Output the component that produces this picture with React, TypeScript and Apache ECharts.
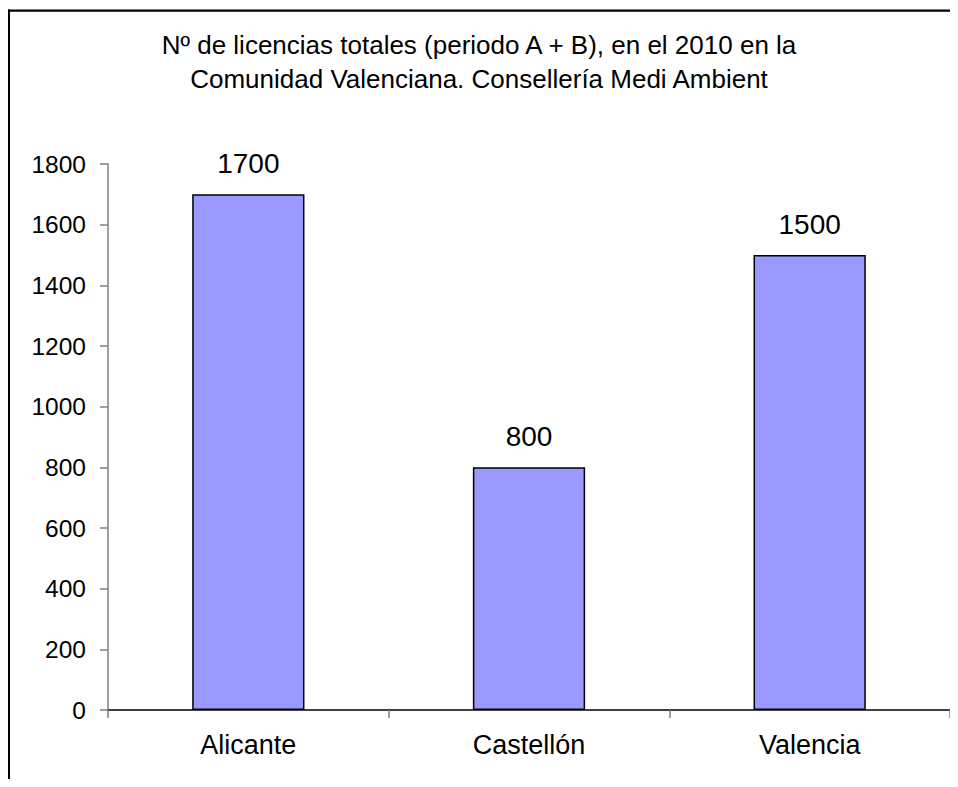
import React, { useEffect, useRef } from "react";
import * as echarts from "echarts";

const titleLines = [
  "Nº de licencias totales (periodo A + B), en el 2010 en la",
  "Comunidad Valenciana. Consellería Medi Ambient",
];
const categories = ["Alicante", "Castellón", "Valencia"];
const licencias = [1700, 800, 1500];
const yTicks = { min: 0, max: 1800, interval: 200 };

const FONT = "Liberation Sans, Arial, sans-serif";

export default function App() {
  const ref = useRef<HTMLDivElement>(null);
  useEffect(() => {
    if (!ref.current) return;
    const chart = echarts.init(ref.current, null, { renderer: "svg" });
    chart.setOption({
      animation: false,
      backgroundColor: "#ffffff",
      textStyle: { fontFamily: FONT, color: "#000" },
      graphic: [
        {
          type: "rect",
          shape: { x: 0, y: 1.5, width: 2, height: 900 },
          style: { fill: "#000" },
          silent: true,
        },
        {
          type: "rect",
          shape: { x: 0, y: 1.5, width: 942, height: 2.2 },
          style: { fill: "#000" },
          silent: true,
        },
        {
          type: "text",
          x: 471,
          y: 20,
          style: {
            text: titleLines.join("\n"),
            fontFamily: FONT,
            fontSize: 26,
            lineHeight: 34,
            fill: "#000",
            align: "center",
            verticalAlign: "top",
          },
        },
      ],
      grid: { left: 100, right: 0, top: 156, bottom: 69, containLabel: false },
      xAxis: {
        type: "category",
        data: categories,
        axisLine: { lineStyle: { color: "#000", width: 1.5 } },
        axisTick: { show: true, length: 8, lineStyle: { color: "#808080", width: 1.5 } },
        axisLabel: { fontSize: 27, color: "#000", margin: 21, fontFamily: FONT },
      },
      yAxis: {
        type: "value",
        min: yTicks.min,
        max: yTicks.max,
        interval: yTicks.interval,
        splitLine: { show: false },
        axisLine: { show: true, lineStyle: { color: "#808080", width: 1.5 } },
        axisTick: { show: true, length: 8, lineStyle: { color: "#808080", width: 1.5 } },
        axisLabel: {
          fontSize: 24.5,
          color: "#000",
          margin: 22,
          fontFamily: FONT,
          formatter: (v: number) => String(v),
        },
      },
      series: [
        {
          type: "bar",
          data: licencias,
          barWidth: "40%",
          itemStyle: { color: "#9999FF", borderColor: "#000", borderWidth: 1.5 },
          label: {
            show: true,
            position: "top",
            distance: 17,
            fontSize: 28,
            color: "#000",
            fontFamily: FONT,
          },
        },
      ],
    });
    return () => chart.dispose();
  }, []);
  return <div ref={ref} style={{ width: 942, height: 771 }} />;
}
